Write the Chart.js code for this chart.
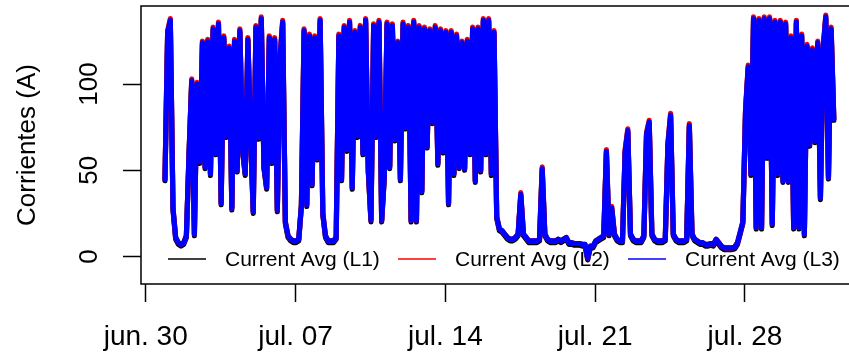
<!DOCTYPE html>
<html>
<head>
<meta charset="utf-8">
<script src="https://cdn.jsdelivr.net/npm/chart.js@4/dist/chart.umd.min.js"></script>
<style>
    html, body { margin: 0; padding: 0; background: #fff; }
    #wrap { width: 849px; height: 358px; }
</style>
</head>
<body>
<div id="wrap"><canvas id="currentChart" width="849" height="358"></canvas></div>
<script>
// axis ticks, in days since jun. 30 00:00
const tickDays = [0, 7, 14, 21, 28];
const tickLabels = ['jun. 30', 'jul. 07', 'jul. 14', 'jul. 21', 'jul. 28'];
const yTicks = [0, 50, 100];

const seriesNames = ['Current Avg (L1)', 'Current Avg (L2)', 'Current Avg (L3)'];
const seriesColors = ['#000000', '#ff0000', '#0000ff'];

const startDay = 0.9;   // first sample, jun. 30 around 21:30
const stepDays = 0.125; // one sample every 3 hours

const l1 = [
    44,129,136,27,10,7,6,7,11,59,
    101,12,99,54,123,51,124,47,131,59,
    134,30,126,69,120,27,124,49,130,61,
    47,125,69,25,132,68,137,51,39,126,
    54,125,26,114,135,19,11,9,8,8,
    9,29,130,29,127,41,126,56,136,24,
    11,8,8,8,10,127,44,132,61,135,
    39,129,69,132,59,136,49,20,133,69,
    135,20,46,134,51,133,67,123,44,134,
    74,132,20,135,20,132,37,131,63,130,
    77,132,53,130,60,129,30,129,47,127,
    51,123,50,124,59,131,43,131,49,136,
    59,136,47,129,22,15,14,12,10,9,
    9,10,12,35,12,10,8,8,8,8,
    9,50,12,9,8,8,8,9,8,9,
    10,7,7,6.5,6.5,6.5,6,6,-2,5,
    5,8,9,10,11,60,12,27,12,9,
    8,8,60,72,12,9,8,8,8,11,
    70,77,12,9,8,8,8,9,64,81,
    12,9,8,8,8,9,75,12,9,8,
    7,7,6,6,6.5,6,9,7,5,4,
    4,4,4,4.5,7,13,19,83,109,47,
    137,16,136,16,137,57,137,18,135,47,
    135,43,134,43,126,16,135,16,127,12,
    121,64,119,66,123,33,119,138,45,131,79
];
const l2 = [
    45,131,138,28,11,8,7,8,12,60,
    103,13,101,55,125,52,126,48,133,60,
    136,31,128,70,122,28,126,50,132,62,
    48,127,70,26,134,69,139,52,40,128,
    55,127,27,116,137,20,12,10,9,9,
    10,30,132,30,129,42,128,57,138,25,
    12,9,9,9,11,129,45,134,62,137,
    40,131,70,134,60,138,50,21,135,70,
    137,21,47,136,52,135,68,125,45,136,
    75,134,21,137,21,134,38,133,64,132,
    78,134,54,132,61,131,31,131,48,129,
    52,125,51,126,60,133,44,133,50,138,
    60,138,48,131,23,16,15,13,11,10,
    10,11,13,37,13,11,9,9,9,9,
    10,52,13,10,9,9,9,10,9,10,
    11,8,8,7.5,7.5,7.5,7,7,-1,6,
    6,9,10,11,12,62,13,29,13,10,
    9,9,62,74,13,10,9,9,9,12,
    72,79,13,10,9,9,9,10,66,83,
    13,10,9,9,9,10,77,13,10,9,
    8,8,7,7,7.5,7,10,8,6,5,
    5,5,5,5.5,8,14,20,85,111,48,
    139,17,138,17,139,58,139,19,137,48,
    137,44,136,44,128,17,137,17,129,13,
    123,65,121,67,125,34,121,140,46,133,80
];
const l3 = [
    45,130,137,28,11,8,7,8,12,60,
    102,13,100,55,124,52,125,48,132,60,
    135,31,127,70,121,28,125,50,131,62,
    48,126,70,26,133,69,138,52,40,127,
    55,126,27,115,136,20,12,10,9,9,
    10,30,131,30,128,42,127,57,137,25,
    12,9,9,9,11,128,45,133,62,136,
    40,130,70,133,60,137,50,21,134,70,
    136,21,47,135,52,134,68,124,45,135,
    75,133,21,136,21,133,38,132,64,131,
    78,133,54,131,61,130,31,130,48,128,
    52,124,51,125,60,132,44,132,50,137,
    60,137,48,130,23,16,15,13,11,10,
    10,11,13,36,13,11,9,9,9,9,
    10,51,13,10,9,9,9,10,9,10,
    11,8,8,7.5,7.5,7.5,7,7,-1,6,
    6,9,10,11,12,61,13,28,13,10,
    9,9,61,73,13,10,9,9,9,12,
    71,78,13,10,9,9,9,10,65,82,
    13,10,9,9,9,10,76,13,10,9,
    8,8,7,7,7.5,7,10,8,6,5,
    5,5,5,5.5,8,14,20,84,110,48,
    138,17,137,17,138,58,138,19,136,48,
    136,44,135,44,127,17,136,17,128,13,
    122,65,120,67,124,34,120,139,46,132,80
];

function toPoints(values) {
    return values.map((v, i) => ({ x: startDay + i * stepDays, y: v }));
}

Chart.defaults.font.family = '"Liberation Sans", Arial, sans-serif';
Chart.defaults.color = '#000';

// R style box (open on the right, the plot runs past the edge) and a legend inside the plot
const boxAndLegend = {
    id: 'boxAndLegend',
    afterDatasetsDraw(chart) {
        const ctx = chart.ctx;
        const a = chart.chartArea;
        ctx.save();
        ctx.strokeStyle = '#000';
        ctx.lineWidth = 1.5;
        ctx.beginPath();
        ctx.moveTo(a.right + 5, a.top);
        ctx.lineTo(a.left, a.top);
        ctx.lineTo(a.left, a.bottom);
        ctx.lineTo(a.right + 5, a.bottom);
        ctx.stroke();

        const rowY = 259;
        const itemX = [168, 398, 628];
        ctx.font = '21px "Liberation Sans", Arial, sans-serif';
        ctx.textBaseline = 'middle';
        ctx.textAlign = 'left';
        chart.data.datasets.forEach((ds, i) => {
            ctx.strokeStyle = ds.borderColor;
            ctx.lineWidth = 1.5;
            ctx.beginPath();
            ctx.moveTo(itemX[i], rowY);
            ctx.lineTo(itemX[i] + 38, rowY);
            ctx.stroke();
            ctx.fillStyle = '#000';
            ctx.fillText(ds.label, itemX[i] + 57, rowY + 1);
        });
        ctx.restore();
    }
};

// keep the plot box where R puts it: no extra room for the tick labels
function noPadding(s) {
    s.paddingTop = 0;
    s.paddingBottom = 0;
    s.paddingLeft = 0;
    s.paddingRight = 0;
}

const datasets = [l1, l2, l3].map((vals, i) => ({
    label: seriesNames[i],
    data: toPoints(vals),
    borderColor: seriesColors[i],
    borderWidth: 5.2,
    borderJoinStyle: 'round',
    borderCapStyle: 'round',
    pointRadius: 0,
    tension: 0,
    order: 2 - i
}));

new Chart(document.getElementById('currentChart'), {
    type: 'line',
    data: { datasets: datasets },
    options: {
        responsive: false,
        animation: false,
        layout: { padding: { top: 6, right: 0, bottom: 0, left: 0 } },
        plugins: {
            legend: { display: false },
            tooltip: { enabled: false }
        },
        scales: {
            x: {
                type: 'linear',
                min: -0.22,
                max: 32.86,
                afterBuildTicks: s => { s.ticks = tickDays.map(v => ({ value: v })); },
                afterFit: s => { s.height = 74; noPadding(s); },
                border: { display: false },
                grid: { drawOnChartArea: false, drawTicks: true, tickLength: 18, tickWidth: 1.5, tickColor: '#000' },
                ticks: {
                    autoSkip: false,
                    maxRotation: 0,
                    padding: 18,
                    font: { size: 28 },
                    callback: v => tickLabels[tickDays.indexOf(v)]
                }
            },
            y: {
                min: -16,
                max: 145.3,
                afterBuildTicks: s => { s.ticks = yTicks.map(v => ({ value: v })); },
                afterFit: s => { s.width = 141; noPadding(s); },
                border: { display: false },
                grid: { drawOnChartArea: false, drawTicks: true, tickLength: 18, tickWidth: 1.5, tickColor: '#000' },
                title: {
                    display: true,
                    text: 'Corrientes (A)',
                    font: { size: 26 },
                    padding: { top: 12, bottom: 0 }
                },
                ticks: {
                    minRotation: 90,
                    maxRotation: 90,
                    crossAlign: 'center',
                    padding: 11,
                    font: { size: 26 }
                }
            }
        }
    },
    plugins: [boxAndLegend]
});
</script>
</body>
</html>
